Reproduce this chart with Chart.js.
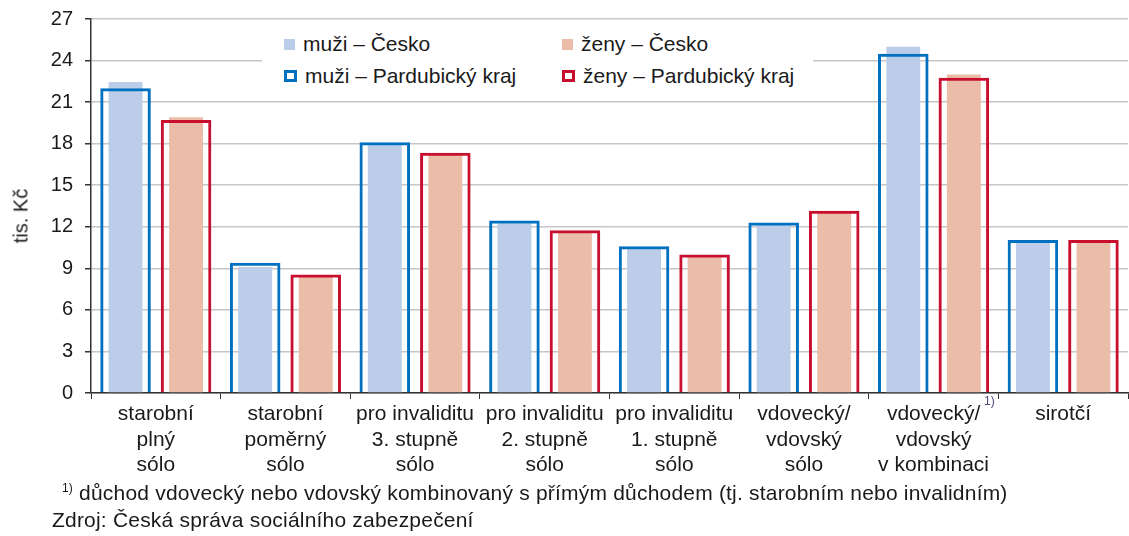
<!DOCTYPE html>
<html>
<head>
<meta charset="utf-8">
<script src="https://cdn.jsdelivr.net/npm/chart.js@4"></script>
<style>
  body { margin: 0; background: #fff; font-family: "Liberation Sans", Arial, sans-serif; color: #1a1a1a; }
  #wrap { position: relative; width: 1129px; height: 536px; overflow: hidden; }
  #legend { position: absolute; left: 262px; top: 26px; width: 551px; height: 68px; background: #fff; font-size: 21px; }
  .item { position: absolute; white-space: nowrap; line-height: 22px; }
  .mk { display: inline-block; width: 11px; height: 11px; margin-right: 8px; vertical-align: 1px; box-sizing: border-box; }
  .note { position: absolute; font-size: 21px; white-space: nowrap; letter-spacing: 0.2px; }
  .sup { font-size: 12px; vertical-align: 8px; }
  #ytitle { position: absolute; left: 21px; top: 216px; font-size: 20px; white-space: nowrap; transform: translate(-50%, -50%) rotate(-90deg); }
</style>
</head>
<body>
<div id="wrap">
  <canvas id="chart" width="1129" height="536"></canvas>
  <div id="ytitle">tis. Kč</div>
  <div id="legend">
    <div class="item" style="left:22px;top:7px"><span class="mk" style="background:#bccde9"></span>muži – Česko</div>
    <div class="item" style="left:300px;top:7px"><span class="mk" style="background:#ebbda9"></span>ženy – Česko</div>
    <div class="item" style="left:22px;top:39px"><span class="mk" style="border:3px solid #0070c0;width:13px;height:12px"></span>muži – Pardubický kraj</div>
    <div class="item" style="left:300px;top:39px"><span class="mk" style="border:3px solid #c8102e;width:13px;height:12px"></span>ženy – Pardubický kraj</div>
  </div>
  <div class="note" style="left:984px;top:394px;font-size:12px;color:#4a4a80;">1)</div>
  <div class="note" style="left:62px;top:481px;"><span class="sup">1)</span> důchod vdovecký nebo vdovský kombinovaný s přímým důchodem (tj. starobním nebo invalidním)</div>
  <div class="note" style="left:52px;top:508px;">Zdroj: Česká správa sociálního zabezpečení</div>
</div>
<script>
const categories = [
  ['starobní', 'plný', 'sólo'],
  ['starobní', 'poměrný', 'sólo'],
  ['pro invaliditu', '3. stupně', 'sólo'],
  ['pro invaliditu', '2. stupně', 'sólo'],
  ['pro invaliditu', '1. stupně', 'sólo'],
  ['vdovecký/', 'vdovský', 'sólo'],
  ['vdovecký/', 'vdovský', 'v kombinaci'],
  ['sirotčí']
];
const muziCesko = [22.45, 9.1, 18.05, 12.25, 10.45, 12.15, 25.0, 10.85];
const zenyCesko = [19.9, 8.4, 17.2, 11.55, 9.85, 13.0, 23.0, 10.85];
const muziPardubice = [22.0, 9.4, 18.1, 12.45, 10.6, 12.3, 24.5, 11.05];
const zenyPardubice = [19.7, 8.55, 17.35, 11.75, 10.0, 13.15, 22.75, 11.05];

const fontFamily = '"Liberation Sans", Arial, sans-serif';

// muži and ženy each share one slot per category, so the Česko bar sits inside the kraj outline
new Chart(document.getElementById('chart'), {
  type: 'bar',
  data: {
    labels: categories,
    datasets: [
      { label: 'muži – Česko', data: muziCesko, stack: 'muzi', backgroundColor: '#bccde9', barPercentage: 0.56, categoryPercentage: 0.934, order: 1 },
      { label: 'ženy – Česko', data: zenyCesko, stack: 'zeny', backgroundColor: '#ebbda9', barPercentage: 0.56, categoryPercentage: 0.934, order: 1 },
      { label: 'muži – Pardubický kraj', data: muziPardubice, stack: 'muzi', backgroundColor: 'rgba(0,0,0,0)', borderColor: '#0070c0', borderWidth: 3, barPercentage: 0.835, categoryPercentage: 0.934, order: 0 },
      { label: 'ženy – Pardubický kraj', data: zenyPardubice, stack: 'zeny', backgroundColor: 'rgba(0,0,0,0)', borderColor: '#c8102e', borderWidth: 3, barPercentage: 0.835, categoryPercentage: 0.934, order: 0 }
    ]
  },
  options: {
    responsive: false,
    animation: false,
    layout: { padding: { top: 19, right: 1, left: 0, bottom: 0 } },
    plugins: { legend: { display: false }, tooltip: { enabled: false } },
    scales: {
      x: {
        grid: { drawOnChartArea: false, tickLength: 6, tickColor: '#333', offset: true },
        border: { color: '#333', width: 1.5 },
        ticks: { color: '#1a1a1a', font: { family: fontFamily, size: 21 }, padding: 3, maxRotation: 0, autoSkip: false },
        afterFit: s => { s.height = 143; }
      },
      y: {
        stacked: false,
        min: 0, max: 27,
        ticks: { stepSize: 3, color: '#1a1a1a', font: { family: fontFamily, size: 20 }, padding: 12 },
        grid: { color: '#c6c6c6', lineWidth: 1.5, tickLength: 6, tickColor: '#333' },
        border: { color: '#333', width: 1.5 },
        afterFit: s => { s.width = 91; s.paddingTop = 0; s.paddingBottom = 0; }
      }
    }
  }
});
</script>
</body>
</html>
